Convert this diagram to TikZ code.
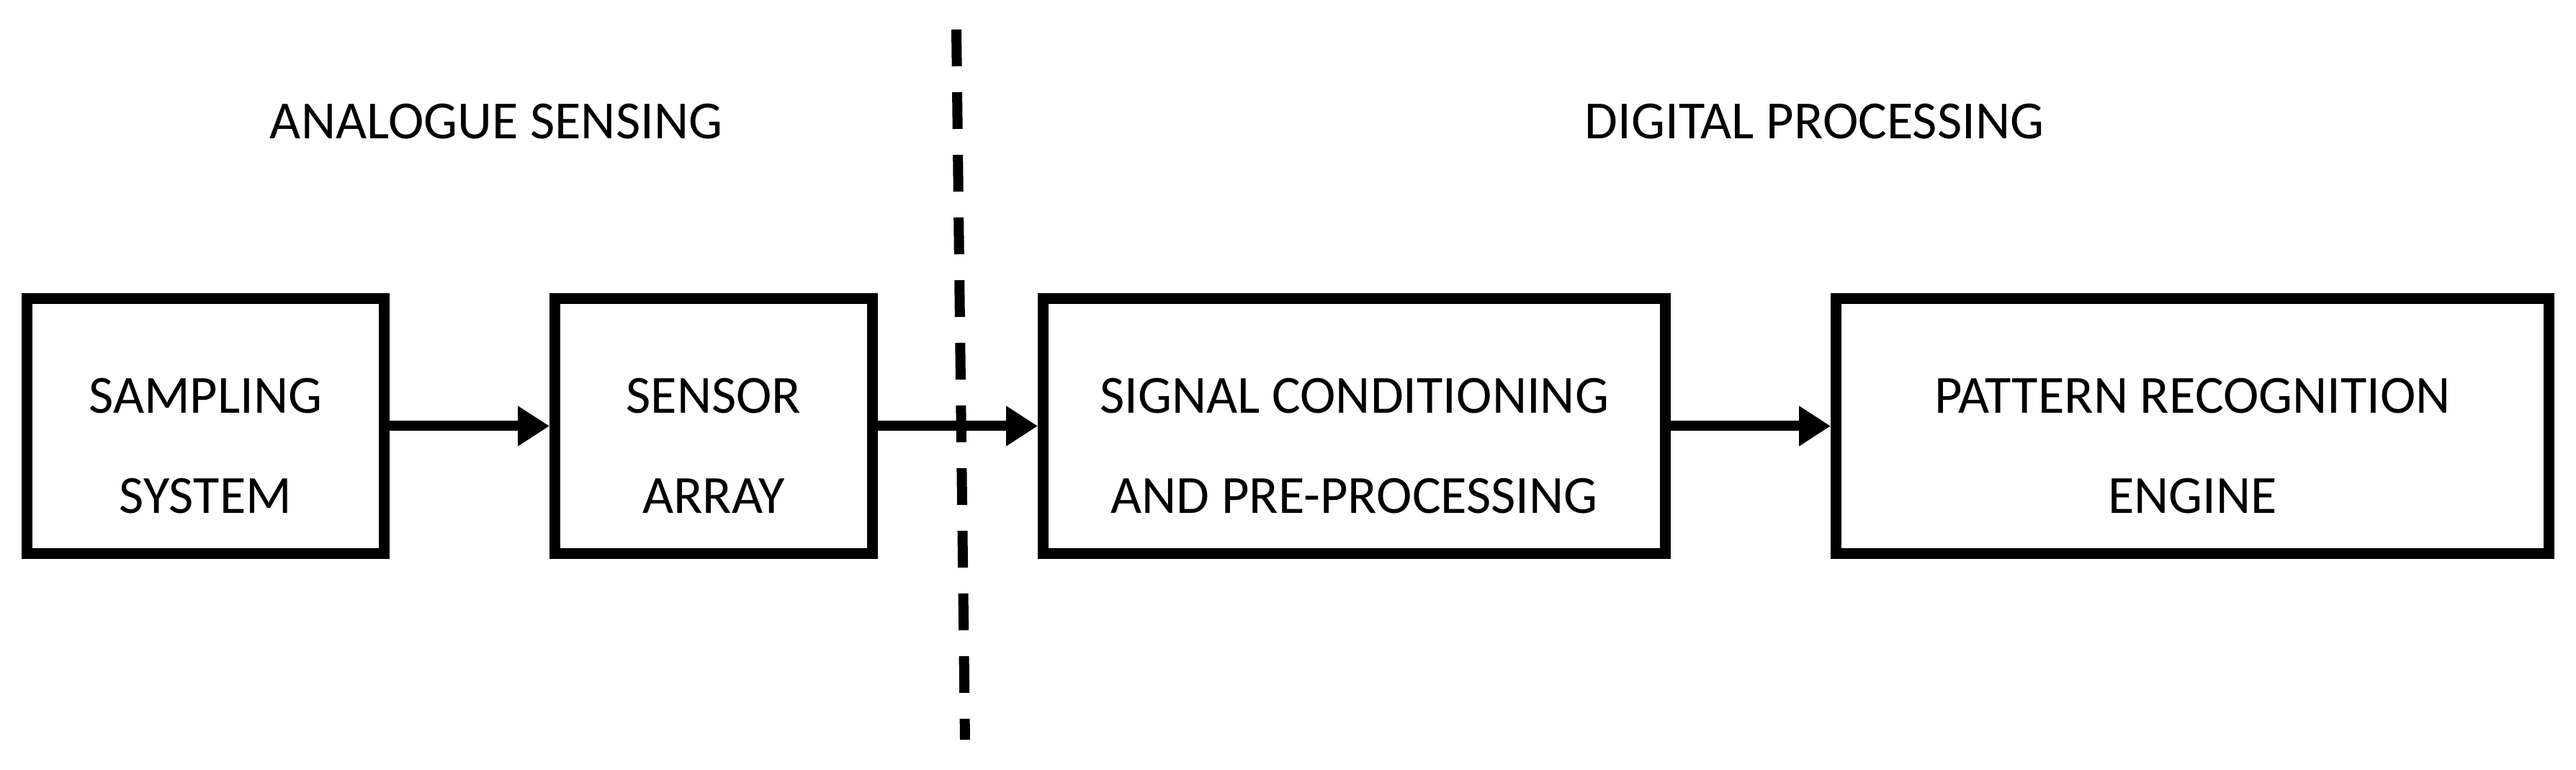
\documentclass[tikz,border=0pt]{standalone}
\usepackage{fontspec}
\setmainfont{Carlito}
\usetikzlibrary{positioning, arrows.meta}
\tikzstyle{block} = [
    rectangle,
    minimum width=4.41cm,
    minimum height=3.54cm,
    line width=0.15cm,
    align=center,
    text height=2.63cm,
    text depth=0.2cm,
    draw=black
]
\tikzstyle{heading} = [anchor=base]
\tikzstyle{arrow} = [line width=0.14cm,-{Triangle[length=0.44cm,width=0.53cm]}]
\tikzstyle{divider} = [line width=0.14cm, dash pattern=on 0.51cm off 0.36cm]

\begin{document}
\begin{tikzpicture}[node distance=2.22cm,
    font=\fontsize{21.2pt}{39.8pt}\selectfont]
\useasboundingbox (0,0) rectangle (35.77,10.69);

\node (sampling) [block, minimum width=4.96cm] at (2.855,4.775)
{SAMPLING\\SYSTEM};

\node (sensor) [block, right=of sampling]
{SENSOR\\ARRAY};

\node (signal) [block, minimum width=8.64cm, right=of sensor]
{SIGNAL CONDITIONING\\AND PRE-PROCESSING};

\node (pattern) [block, minimum width=9.9cm, right=of signal]
{PATTERN RECOGNITION\\ENGINE};

\node (analogue) [heading] at (6.89,8.76) {ANALOGUE SENSING};
\node (digital) [heading] at (25.195,8.76) {DIGITAL PROCESSING};

\coordinate (divtop) at (13.28,10.28);
\coordinate (divbot) at (13.40,0.42);
\draw [divider] (divtop) -- (divbot);

\draw [arrow] (sampling) -- (sensor);
\draw [arrow] (sensor) -- (signal);
\draw [arrow] (signal) -- (pattern);

\end{tikzpicture}
\end{document}
